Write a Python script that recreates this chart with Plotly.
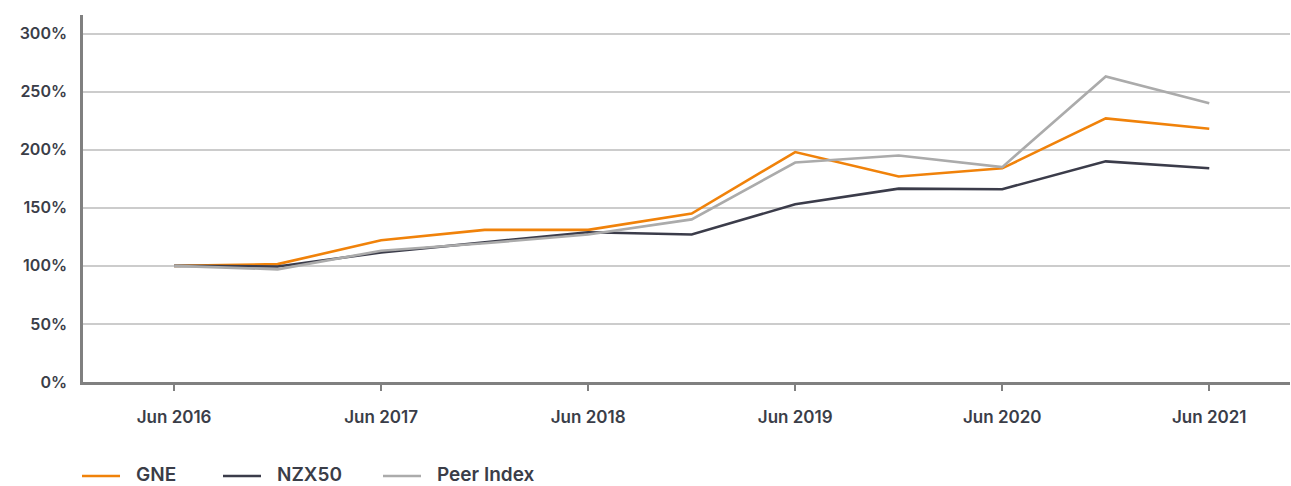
import plotly.graph_objects as go

periods = ["Jun 2016", "Dec 2016", "Jun 2017", "Dec 2017", "Jun 2018", "Dec 2018",
           "Jun 2019", "Dec 2019", "Jun 2020", "Dec 2020", "Jun 2021"]
gne = [100, 101.5, 122, 131, 131, 145, 198, 177, 184, 227, 218]
nzx50 = [100, 99.5, 111.5, 120, 129, 127, 153, 166.5, 166, 190, 184]
peer = [100, 97, 113, 119.5, 127, 140, 189, 195, 185, 263, 240]
series_names = ["GNE", "NZX50", "Peer Index"]
series_colors = ["#F0820A", "#3b3c4a", "#ababab"]
tick_labels = ["Jun 2016", "Jun 2017", "Jun 2018", "Jun 2019", "Jun 2020", "Jun 2021"]
y_ticks = [0, 50, 100, 150, 200, 250, 300]

W, H = 1291, 486
L, R, T, B = 83, 1, 15, 104
pw, ph = W - L - R, H - T - B

def px_x(p):
    return (p - L) / pw

def px_y(p):
    return (H - B - p) / ph

xs = list(range(len(periods)))
txt = "#3a3d48"
fam = "Inter, Roboto, sans-serif"

fig = go.Figure()
for name, vals, col in zip(series_names, [gne, nzx50, peer], series_colors):
    fig.add_trace(go.Scatter(x=xs, y=vals, name=name, mode="lines",
                             line=dict(color=col, width=2.6), customdata=periods,
                             hovertemplate="%{customdata}: %{y}%<extra>" + name + "</extra>",
                             showlegend=False))

# custom legend below the plot
legend_starts = [82, 223, 383]
legend_y = 474
shapes, annotations = [], []
for name, col, x0 in zip(series_names, series_colors, legend_starts):
    shapes.append(dict(type="line", xref="paper", yref="paper",
                       x0=px_x(x0), x1=px_x(x0 + 38), y0=px_y(legend_y + 2), y1=px_y(legend_y + 2),
                       line=dict(color=col, width=2.6)))
    annotations.append(dict(text=name, xref="paper", yref="paper", x=px_x(x0 + 52), y=px_y(legend_y),
                            xanchor="left", yanchor="middle", showarrow=False,
                            font=dict(family=fam, size=19, color=txt, weight=600)))

fig.update_layout(
    width=W, height=H,
    margin=dict(l=L, r=R, t=T, b=B, autoexpand=False),
    plot_bgcolor="white", paper_bgcolor="white",
    font=dict(family=fam, size=16, color=txt, weight=600),
    showlegend=False,
    shapes=shapes, annotations=annotations,
)
fig.update_xaxes(range=[-0.88, 10.78], tickvals=[0, 2, 4, 6, 8, 10], ticktext=tick_labels,
                 showgrid=False, zeroline=False, showline=True, linecolor="#808080", linewidth=2.5,
                 ticks="outside", ticklen=6, tickwidth=2, tickcolor="#808080",
                 ticklabelstandoff=12, automargin=False,
                 tickfont=dict(family=fam, size=17, color=txt, weight=600))
fig.update_yaxes(range=[0, 316], tickvals=y_ticks, ticktext=[f"{v}%" for v in y_ticks],
                 showgrid=True, gridcolor="#cccccc", gridwidth=2, zeroline=False,
                 showline=True, linecolor="#808080", linewidth=2.5, ticks="",
                 ticklabelstandoff=10, automargin=False,
                 tickfont=dict(family=fam, size=16, color=txt, weight=600))

fig.write_html("out.html", config={"displayModeBar": False},
               post_script="document.body.style.margin='0';document.body.style.overflow='hidden';")
